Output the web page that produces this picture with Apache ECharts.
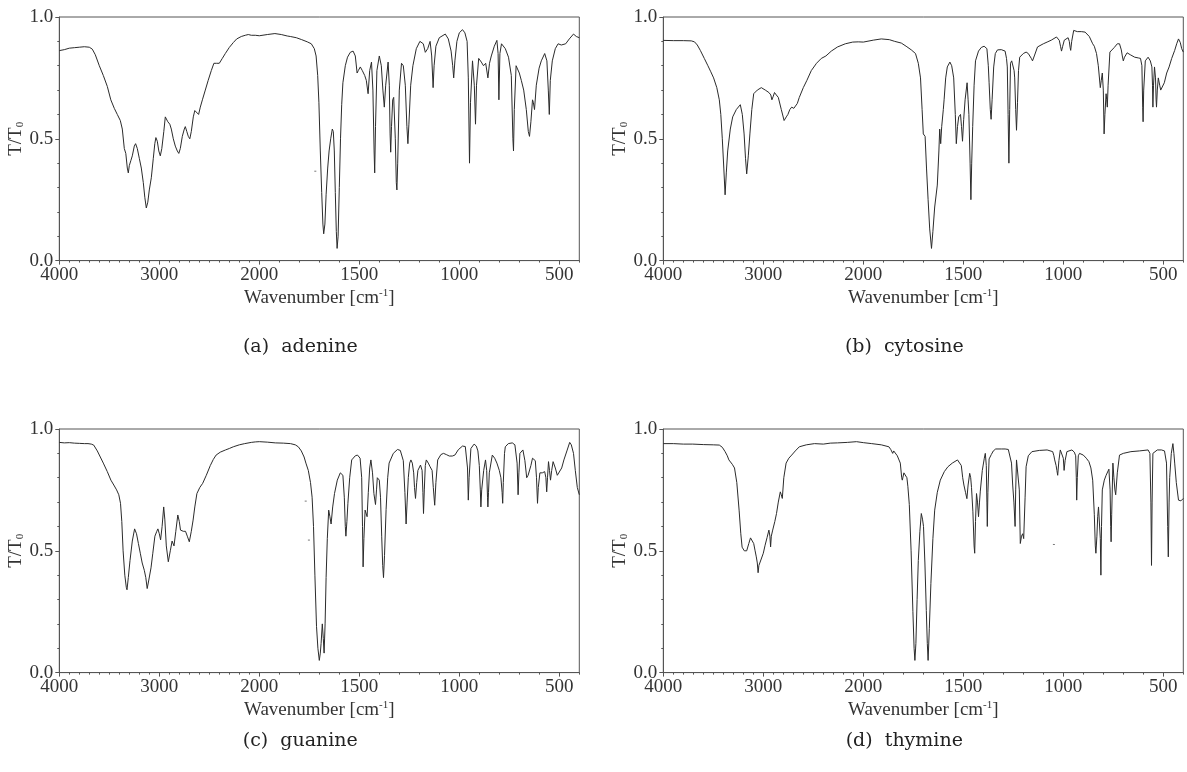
<!DOCTYPE html>
<html>
<head>
<meta charset="utf-8">
<title>IR spectra of nucleobases</title>
<script src="https://cdn.jsdelivr.net/npm/echarts@6/dist/echarts.min.js"></script>
<style>
  html, body { margin: 0; padding: 0; background: #fff; }
  #chart { width: 1187px; height: 772px; }
</style>
</head>
<body>
<div id="chart"></div>
<script>
// Transmission spectra, [wavenumber cm^-1, T/T0]
const adenine = [
  [4000,0.862],[3950,0.866],[3900,0.872],[3850,0.874],[3800,0.876],[3750,0.878],[3700,0.876],[3670,0.868],
  [3640,0.845],[3600,0.80],[3560,0.76],[3520,0.715],[3485,0.66],[3450,0.625],[3420,0.60],[3390,0.575],
  [3370,0.54],[3350,0.46],[3335,0.44],[3320,0.38],[3310,0.36],[3300,0.39],[3285,0.41],[3270,0.43],
  [3250,0.47],[3237,0.48],[3220,0.46],[3200,0.42],[3180,0.38],[3160,0.32],[3145,0.26],[3130,0.216],
  [3115,0.24],[3100,0.29],[3080,0.34],[3060,0.42],[3045,0.48],[3034,0.505],[3020,0.49],[3005,0.45],
  [2990,0.43],[2975,0.46],[2955,0.53],[2940,0.59],[2930,0.598],[2915,0.57],[2895,0.56],[2880,0.54],
  [2860,0.50],[2840,0.47],[2820,0.45],[2805,0.44],[2790,0.46],[2770,0.51],[2750,0.54],[2740,0.55],
  [2725,0.53],[2710,0.51],[2695,0.50],[2680,0.53],[2660,0.59],[2645,0.616],[2625,0.61],[2607,0.60],
  [2590,0.63],[2569,0.66],[2540,0.70],[2511,0.74],[2480,0.78],[2454,0.81],[2430,0.81],[2400,0.81],
  [2370,0.83],[2340,0.85],[2300,0.875],[2260,0.895],[2226,0.91],[2180,0.92],[2140,0.925],[2110,0.928],
  [2080,0.925],[2040,0.925],[2000,0.923],[1960,0.928],[1922,0.932],[1890,0.928],[1860,0.922],[1845,0.92],
  [1815,0.915],[1788,0.907],[1760,0.898],[1740,0.89],[1725,0.87],[1716,0.84],[1708,0.76],[1702,0.65],
  [1695,0.45],[1688,0.28],[1682,0.15],[1678,0.11],[1672,0.15],[1666,0.27],[1658,0.38],[1651,0.45],
  [1643,0.50],[1635,0.54],[1630,0.53],[1625,0.45],[1620,0.28],[1615,0.12],[1611,0.05],[1606,0.10],
  [1600,0.30],[1594,0.50],[1588,0.64],[1582,0.73],[1570,0.80],[1559,0.835],[1545,0.855],[1531,0.86],
  [1520,0.84],[1511,0.77],[1505,0.78],[1495,0.795],[1485,0.78],[1473,0.76],[1465,0.74],[1456,0.685],
  [1448,0.78],[1439,0.815],[1432,0.70],[1426,0.45],[1423,0.36],[1419,0.55],[1412,0.78],[1400,0.84],
  [1390,0.80],[1382,0.70],[1375,0.63],[1368,0.72],[1356,0.815],[1350,0.72],[1346,0.52],[1343,0.445],
  [1339,0.55],[1333,0.66],[1328,0.67],[1320,0.50],[1315,0.32],[1312,0.29],[1308,0.40],[1300,0.70],
  [1289,0.81],[1280,0.80],[1270,0.72],[1262,0.55],[1257,0.48],[1252,0.56],[1243,0.72],[1232,0.80],
  [1215,0.87],[1197,0.90],[1180,0.89],[1170,0.855],[1165,0.85],[1158,0.87],[1146,0.90],[1138,0.84],
  [1131,0.71],[1126,0.80],[1117,0.88],[1100,0.915],[1070,0.93],[1055,0.91],[1041,0.86],[1033,0.80],
  [1028,0.75],[1022,0.82],[1012,0.90],[1000,0.935],[984,0.948],[972,0.935],[961,0.90],[955,0.75],
  [949,0.40],[944,0.65],[934,0.82],[925,0.72],[919,0.56],[914,0.72],[903,0.83],[890,0.815],
  [879,0.80],[868,0.81],[857,0.75],[849,0.81],[840,0.84],[825,0.88],[812,0.904],[806,0.85],
  [802,0.66],[797,0.85],[789,0.89],[770,0.87],[754,0.835],[740,0.76],[732,0.50],[729,0.45],
  [725,0.62],[716,0.80],[700,0.77],[690,0.74],[678,0.70],[665,0.62],[655,0.53],[649,0.51],
  [642,0.57],[634,0.66],[630,0.65],[624,0.62],[615,0.72],[601,0.79],[590,0.82],[573,0.85],
  [562,0.82],[555,0.70],[550,0.60],[545,0.74],[535,0.82],[520,0.87],[506,0.89],[490,0.885],
  [468,0.89],[450,0.91],[429,0.93],[415,0.92],[400,0.915]
];

const cytosine = [
  [4000,0.904],[3900,0.903],[3800,0.903],[3720,0.902],[3688,0.898],[3660,0.885],[3630,0.863],[3590,0.83],
  [3554,0.80],[3525,0.775],[3497,0.75],[3465,0.71],[3440,0.66],[3425,0.60],[3410,0.50],[3395,0.38],
  [3382,0.27],[3370,0.36],[3356,0.45],[3330,0.54],[3306,0.59],[3270,0.62],[3230,0.64],[3210,0.60],
  [3192,0.52],[3178,0.42],[3166,0.356],[3150,0.43],[3134,0.52],[3115,0.62],[3096,0.685],[3060,0.70],
  [3020,0.71],[2980,0.70],[2944,0.69],[2925,0.68],[2914,0.66],[2900,0.675],[2888,0.69],[2870,0.68],
  [2850,0.67],[2820,0.62],[2792,0.575],[2770,0.59],[2754,0.60],[2735,0.62],[2716,0.63],[2695,0.625],
  [2678,0.62],[2660,0.645],[2640,0.67],[2600,0.71],[2564,0.74],[2520,0.78],[2468,0.81],[2420,0.83],
  [2374,0.84],[2320,0.86],[2258,0.877],[2180,0.89],[2106,0.897],[2050,0.898],[2000,0.897],[1950,0.905],
  [1910,0.91],[1870,0.907],[1843,0.90],[1810,0.893],[1786,0.88],[1760,0.865],[1739,0.85],[1725,0.81],
  [1714,0.75],[1706,0.62],[1700,0.52],[1691,0.51],[1684,0.38],[1676,0.25],[1668,0.13],[1659,0.05],
  [1652,0.12],[1643,0.22],[1630,0.31],[1622,0.45],[1618,0.54],[1613,0.48],[1608,0.55],[1600,0.62],
  [1596,0.66],[1588,0.75],[1580,0.795],[1567,0.815],[1558,0.80],[1548,0.75],[1540,0.60],[1535,0.48],
  [1529,0.55],[1523,0.59],[1514,0.60],[1509,0.55],[1504,0.49],[1498,0.58],[1491,0.66],[1481,0.73],
  [1476,0.66],[1472,0.60],[1466,0.40],[1462,0.25],[1458,0.40],[1453,0.55],[1446,0.72],[1439,0.82],
  [1424,0.86],[1410,0.875],[1396,0.88],[1382,0.87],[1375,0.80],[1371,0.73],[1365,0.62],[1361,0.58],
  [1356,0.66],[1348,0.795],[1340,0.85],[1329,0.865],[1310,0.866],[1291,0.86],[1284,0.83],[1280,0.795],
  [1276,0.60],[1272,0.40],[1268,0.62],[1264,0.81],[1258,0.82],[1253,0.815],[1246,0.78],[1243,0.75],
  [1238,0.62],[1234,0.535],[1229,0.65],[1224,0.78],[1218,0.835],[1200,0.85],[1186,0.856],[1175,0.85],
  [1167,0.845],[1160,0.83],[1154,0.82],[1145,0.84],[1129,0.877],[1100,0.89],[1081,0.897],[1060,0.905],
  [1034,0.918],[1025,0.912],[1020,0.904],[1014,0.88],[1009,0.86],[1003,0.88],[995,0.905],[990,0.91],
  [976,0.915],[970,0.90],[966,0.875],[963,0.863],[958,0.90],[948,0.945],[930,0.94],[910,0.94],
  [891,0.938],[870,0.92],[853,0.89],[845,0.88],[834,0.85],[825,0.80],[815,0.71],[810,0.74],
  [805,0.77],[800,0.70],[796,0.52],[792,0.60],[786,0.685],[783,0.66],[780,0.63],[776,0.72],
  [767,0.856],[745,0.875],[730,0.89],[719,0.89],[710,0.865],[705,0.84],[700,0.82],[694,0.835],
  [681,0.853],[665,0.845],[643,0.835],[625,0.832],[614,0.83],[607,0.80],[603,0.63],[601,0.57],
  [598,0.70],[590,0.82],[576,0.835],[565,0.82],[557,0.795],[554,0.72],[552,0.63],[549,0.72],
  [544,0.795],[539,0.75],[536,0.66],[534,0.63],[530,0.70],[525,0.75],[518,0.72],[513,0.70],
  [505,0.705],[495,0.73],[483,0.77],[471,0.795],[458,0.83],[443,0.863],[433,0.89],[424,0.91],
  [415,0.895],[408,0.87],[400,0.856]
];

const guanine = [
  [4000,0.945],[3950,0.943],[3900,0.944],[3850,0.942],[3800,0.941],[3750,0.94],[3713,0.94],[3680,0.938],
  [3656,0.934],[3620,0.91],[3590,0.885],[3560,0.86],[3520,0.825],[3484,0.79],[3455,0.77],[3427,0.75],
  [3405,0.73],[3388,0.695],[3375,0.62],[3362,0.50],[3345,0.40],[3330,0.35],[3323,0.34],[3310,0.39],
  [3293,0.46],[3270,0.54],[3247,0.59],[3228,0.57],[3209,0.53],[3190,0.49],[3171,0.45],[3150,0.42],
  [3135,0.39],[3121,0.345],[3105,0.38],[3083,0.43],[3065,0.49],[3044,0.56],[3025,0.58],[3014,0.59],
  [3000,0.57],[2987,0.545],[2972,0.60],[2956,0.68],[2945,0.63],[2930,0.52],[2910,0.455],[2890,0.50],
  [2872,0.54],[2853,0.52],[2835,0.58],[2815,0.647],[2800,0.62],[2788,0.585],[2760,0.58],[2738,0.58],
  [2720,0.56],[2700,0.537],[2680,0.58],[2662,0.626],[2645,0.68],[2624,0.735],[2595,0.76],[2566,0.777],
  [2530,0.81],[2490,0.85],[2460,0.875],[2432,0.893],[2390,0.905],[2338,0.914],[2300,0.92],[2260,0.927],
  [2200,0.935],[2146,0.94],[2080,0.945],[2040,0.947],[2000,0.948],[1960,0.946],[1920,0.943],[1880,0.942],
  [1844,0.94],[1820,0.935],[1805,0.927],[1790,0.91],[1776,0.885],[1767,0.86],[1755,0.83],[1744,0.78],
  [1736,0.72],[1729,0.60],[1722,0.40],[1714,0.19],[1707,0.10],[1700,0.05],[1695,0.08],[1691,0.12],
  [1685,0.20],[1680,0.14],[1676,0.08],[1671,0.20],[1666,0.39],[1660,0.55],[1653,0.667],[1647,0.64],
  [1641,0.61],[1633,0.68],[1624,0.735],[1610,0.79],[1595,0.82],[1582,0.81],[1575,0.72],[1570,0.60],
  [1567,0.56],[1562,0.62],[1557,0.695],[1548,0.80],[1538,0.873],[1520,0.89],[1509,0.893],[1496,0.88],
  [1488,0.80],[1484,0.60],[1481,0.434],[1477,0.55],[1471,0.667],[1466,0.66],[1461,0.64],[1455,0.74],
  [1448,0.84],[1442,0.873],[1434,0.82],[1427,0.735],[1419,0.69],[1414,0.75],[1410,0.80],[1405,0.80],
  [1400,0.79],[1394,0.72],[1388,0.56],[1383,0.44],[1379,0.39],[1374,0.48],[1366,0.67],[1358,0.80],
  [1351,0.86],[1330,0.90],[1309,0.916],[1295,0.912],[1289,0.905],[1280,0.87],[1272,0.74],[1266,0.61],
  [1261,0.70],[1255,0.80],[1248,0.86],[1242,0.873],[1235,0.86],[1228,0.82],[1224,0.76],[1219,0.715],
  [1213,0.78],[1207,0.83],[1194,0.852],[1186,0.83],[1182,0.74],[1179,0.653],[1175,0.75],[1170,0.85],
  [1165,0.873],[1155,0.86],[1146,0.845],[1136,0.83],[1130,0.76],[1123,0.687],[1117,0.78],[1108,0.873],
  [1092,0.895],[1079,0.90],[1065,0.895],[1050,0.889],[1035,0.889],[1022,0.893],[1005,0.915],[984,0.93],
  [970,0.928],[964,0.924],[959,0.84],[955,0.708],[951,0.80],[942,0.92],[926,0.938],[915,0.93],
  [907,0.91],[900,0.85],[895,0.75],[892,0.68],[888,0.75],[878,0.83],[869,0.873],[863,0.83],
  [859,0.72],[857,0.68],[854,0.74],[850,0.82],[835,0.893],[823,0.88],[812,0.86],[800,0.83],
  [792,0.80],[786,0.74],[783,0.695],[780,0.78],[774,0.90],[770,0.927],[755,0.94],[735,0.943],
  [722,0.935],[716,0.927],[711,0.86],[706,0.73],[702,0.82],[697,0.90],[682,0.914],[672,0.87],
  [663,0.80],[656,0.81],[649,0.805],[642,0.85],[634,0.88],[620,0.87],[614,0.80],[609,0.695],
  [605,0.76],[597,0.82],[585,0.82],[573,0.825],[567,0.80],[563,0.742],[559,0.80],[554,0.866],
  [549,0.83],[544,0.79],[538,0.83],[531,0.866],[520,0.84],[510,0.81],[500,0.815],[488,0.84],
  [477,0.873],[462,0.91],[448,0.945],[440,0.935],[429,0.90],[420,0.83],[410,0.76],[400,0.73]
];

const thymine = [
  [4000,0.94],[3900,0.94],[3800,0.938],[3706,0.938],[3600,0.936],[3500,0.935],[3440,0.934],[3410,0.925],
  [3382,0.907],[3360,0.89],[3344,0.873],[3310,0.855],[3288,0.84],[3265,0.78],[3242,0.667],[3225,0.57],
  [3212,0.515],[3190,0.50],[3166,0.50],[3145,0.53],[3128,0.553],[3110,0.545],[3096,0.53],[3082,0.50],
  [3070,0.475],[3060,0.45],[3052,0.41],[3044,0.44],[3035,0.45],[3020,0.455],[3000,0.49],[2982,0.523],
  [2962,0.555],[2944,0.585],[2934,0.56],[2927,0.516],[2920,0.56],[2906,0.585],[2885,0.62],[2868,0.653],
  [2850,0.70],[2830,0.742],[2820,0.73],[2810,0.715],[2795,0.80],[2772,0.86],[2745,0.88],[2716,0.893],
  [2680,0.91],[2640,0.927],[2570,0.935],[2488,0.94],[2400,0.938],[2330,0.942],[2258,0.943],[2160,0.945],
  [2068,0.948],[2000,0.944],[1958,0.94],[1910,0.935],[1872,0.927],[1862,0.915],[1853,0.90],[1848,0.91],
  [1843,0.915],[1830,0.89],[1815,0.86],[1808,0.80],[1805,0.79],[1797,0.82],[1790,0.825],[1782,0.80],
  [1777,0.763],[1770,0.69],[1761,0.50],[1752,0.25],[1746,0.10],[1742,0.05],[1737,0.12],[1731,0.30],
  [1725,0.46],[1717,0.58],[1710,0.653],[1704,0.63],[1699,0.60],[1692,0.45],[1685,0.255],[1680,0.12],
  [1676,0.05],[1670,0.18],[1662,0.366],[1652,0.55],[1643,0.667],[1630,0.74],[1615,0.79],[1595,0.825],
  [1577,0.845],[1555,0.86],[1529,0.873],[1520,0.866],[1510,0.85],[1503,0.80],[1497,0.77],[1489,0.74],
  [1482,0.714],[1476,0.77],[1468,0.818],[1463,0.80],[1459,0.76],[1452,0.66],[1446,0.52],[1443,0.49],
  [1439,0.62],[1434,0.735],[1429,0.70],[1424,0.64],[1419,0.70],[1415,0.745],[1405,0.83],[1395,0.88],
  [1390,0.90],[1385,0.85],[1382,0.70],[1380,0.60],[1377,0.74],[1371,0.877],[1360,0.895],[1350,0.91],
  [1338,0.918],[1310,0.918],[1291,0.918],[1275,0.916],[1266,0.914],[1259,0.86],[1253,0.77],[1247,0.70],
  [1241,0.60],[1238,0.75],[1234,0.873],[1228,0.875],[1224,0.873],[1220,0.75],[1215,0.53],[1209,0.56],
  [1203,0.57],[1198,0.55],[1196,0.556],[1191,0.72],[1186,0.845],[1175,0.89],[1157,0.907],[1120,0.912],
  [1081,0.914],[1053,0.907],[1047,0.89],[1043,0.873],[1036,0.85],[1032,0.83],[1028,0.81],[1022,0.87],
  [1015,0.914],[1005,0.915],[1000,0.88],[996,0.83],[991,0.87],[982,0.907],[957,0.914],[945,0.905],
  [938,0.89],[935,0.80],[933,0.708],[930,0.80],[925,0.89],[919,0.90],[900,0.893],[885,0.88],
  [872,0.866],[862,0.84],[853,0.79],[845,0.65],[840,0.52],[837,0.49],[832,0.56],[828,0.64],
  [824,0.68],[818,0.68],[815,0.55],[812,0.40],[809,0.60],[805,0.75],[795,0.79],[786,0.81],
  [772,0.835],[766,0.75],[763,0.60],[761,0.537],[758,0.65],[752,0.86],[747,0.80],[742,0.75],
  [738,0.73],[730,0.82],[719,0.893],[700,0.90],[662,0.907],[620,0.91],[576,0.914],[567,0.90],
  [562,0.70],[559,0.44],[556,0.70],[552,0.90],[530,0.914],[509,0.914],[494,0.91],[484,0.86],
  [478,0.60],[475,0.475],[471,0.70],[468,0.80],[460,0.90],[452,0.94],[447,0.90],[443,0.86],
  [435,0.78],[424,0.708],[412,0.705],[400,0.715]
];

// Stray specks that appear on the recorded traces
const adenineSpecks = [[1720,0.367]];
const guanineSpecks = [[1768,0.704],[1752,0.544]];
const thymineSpecks = [[1047,0.526]];

const captions = ['(a)  adenine', '(b)  cytosine', '(c)  guanine', '(d)  thymine'];
const spectra = [adenine, cytosine, guanine, thymine];
const specks = [adenineSpecks, [], guanineSpecks, thymineSpecks];

// High-wavenumber part (4000-2000) is drawn at half the scale of the 2000-400 part
const xHiTicks = [4000, 3000, 2000];
const xLoTicks = [1500, 1000, 500];
const yTicks = [0, 0.5, 1];

// Panel layout
const panelBox = [
  { left: 59.3, top: 17, captionY: 347 },
  { left: 663.3, top: 17, captionY: 347 },
  { left: 59.3, top: 429, captionY: 741 },
  { left: 663.3, top: 429, captionY: 741 }
];
const plotW = 520, hiW = 200, plotH = 243.6;

const FONT = 'Liberation Serif, Times New Roman, serif';
const CAPTION_FONT = 'DejaVu Serif, serif';
const ink = '#333';
const axisInk = '#555';
const traceInk = '#2b2b2b';
const labelSize = 19;

const grid = [], xAxis = [], yAxis = [], series = [], graphic = [];

panelBox.forEach((p, i) => {
  const g0 = grid.length;
  // frame, hi-range, lo-range, lo-range minor ticks
  grid.push({ left: p.left, top: p.top, width: plotW, height: plotH, show: true,
              borderColor: axisInk, borderWidth: 1, backgroundColor: 'transparent' });
  grid.push({ left: p.left, top: p.top, width: hiW, height: plotH });
  grid.push({ left: p.left + hiW, top: p.top, width: plotW - hiW, height: plotH });
  grid.push({ left: p.left + hiW, top: p.top, width: plotW - hiW, height: plotH });

  const xi = xAxis.length, yi = yAxis.length;

  // frame axis only carries the axis title
  xAxis.push({
    gridIndex: g0, type: 'value', min: 0, max: 1,
    axisLine: { show: false }, axisTick: { show: false }, axisLabel: { show: false },
    splitLine: { show: false },
    name: 'Wavenumber [cm{sup|-1}]', nameLocation: 'middle', nameGap: 27,
    nameTextStyle: {
      fontFamily: FONT, fontSize: labelSize, color: ink,
      rich: { sup: { fontFamily: FONT, fontSize: 11, color: ink, verticalAlign: 'top', padding: [0, 0, 9, 0] } }
    }
  });
  yAxis.push({ gridIndex: g0, type: 'value', min: 0, max: 1, show: false });

  // 4000 - 2000
  xAxis.push({
    gridIndex: g0 + 1, type: 'value', inverse: true, min: xHiTicks[2], max: xHiTicks[0], interval: 1000,
    axisLine: { show: true, lineStyle: { color: axisInk, width: 1 } },
    axisTick: { show: true, length: 4, lineStyle: { color: axisInk } },
    minorTick: { show: true, splitNumber: 10, length: 2, lineStyle: { color: axisInk } },
    axisLabel: { show: true, margin: 5, fontFamily: FONT, fontSize: labelSize, color: ink,
                 customValues: xHiTicks, formatter: v => String(v) },
    splitLine: { show: false }
  });
  yAxis.push({
    gridIndex: g0 + 1, type: 'value', min: 0, max: 1, interval: 0.5,
    axisLine: { show: true, lineStyle: { color: axisInk, width: 1 } },
    axisTick: { show: true, length: 4, lineStyle: { color: axisInk } },
    minorTick: { show: true, splitNumber: 5, length: 2, lineStyle: { color: axisInk } },
    axisLabel: { show: true, margin: 6, fontFamily: FONT, fontSize: labelSize, color: ink,
                 customValues: yTicks, formatter: v => v.toFixed(1) },
    splitLine: { show: false },
    name: '{t|T/T}{s|0}', nameLocation: 'middle', nameGap: 29, nameRotate: 90,
    nameTextStyle: {
      rich: {
        t: { fontFamily: FONT, fontSize: labelSize, color: ink },
        s: { fontFamily: FONT, fontSize: 11, color: ink, verticalAlign: 'bottom', padding: [7, 0, 0, 0] }
      }
    }
  });

  // 2000 - 400
  xAxis.push({
    gridIndex: g0 + 2, type: 'value', inverse: true, min: 400, max: 2000,
    axisLine: { show: true, lineStyle: { color: axisInk, width: 1 } },
    axisTick: { show: true, length: 4, customValues: xLoTicks, lineStyle: { color: axisInk } },
    axisLabel: { show: true, margin: 5, fontFamily: FONT, fontSize: labelSize, color: ink,
                 customValues: xLoTicks, formatter: v => String(v) },
    splitLine: { show: false }
  });
  yAxis.push({ gridIndex: g0 + 2, type: 'value', min: 0, max: 1, show: false });

  // 100 cm-1 minor ticks of the lower range
  xAxis.push({
    gridIndex: g0 + 3, type: 'value', inverse: true, min: 400, max: 2000, interval: 100,
    axisLine: { show: false },
    axisTick: { show: true, length: 2, lineStyle: { color: axisInk } },
    axisLabel: { show: false }, splitLine: { show: false }
  });
  yAxis.push({ gridIndex: g0 + 3, type: 'value', min: 0, max: 1, show: false });

  const data = spectra[i];
  const lineStyle = { color: traceInk, width: 1 };
  series.push({
    type: 'line', xAxisIndex: xi + 1, yAxisIndex: yi + 1, showSymbol: false, silent: true,
    data: data.filter(d => d[0] >= 2000), lineStyle
  });
  series.push({
    type: 'line', xAxisIndex: xi + 2, yAxisIndex: yi + 2, showSymbol: false, silent: true,
    data: data.filter(d => d[0] <= 2000), lineStyle
  });
  if (specks[i].length) {
    series.push({
      type: 'scatter', xAxisIndex: xi + 2, yAxisIndex: yi + 2, silent: true,
      symbol: 'rect', symbolSize: [2, 1], itemStyle: { color: '#555' },
      data: specks[i]
    });
  }

  // sub-figure caption
  graphic.push({
    type: 'text', x: p.left + plotW / 2 - 19, y: p.captionY,
    style: { text: captions[i], fontFamily: CAPTION_FONT, fontSize: 19, fill: '#222',
             textAlign: 'center', textVerticalAlign: 'middle' }
  });
});

const chart = echarts.init(document.getElementById('chart'), null, { renderer: 'canvas' });
chart.setOption({
  backgroundColor: '#fff',
  animation: false,
  grid, xAxis, yAxis, series, graphic
});
</script>
</body>
</html>
